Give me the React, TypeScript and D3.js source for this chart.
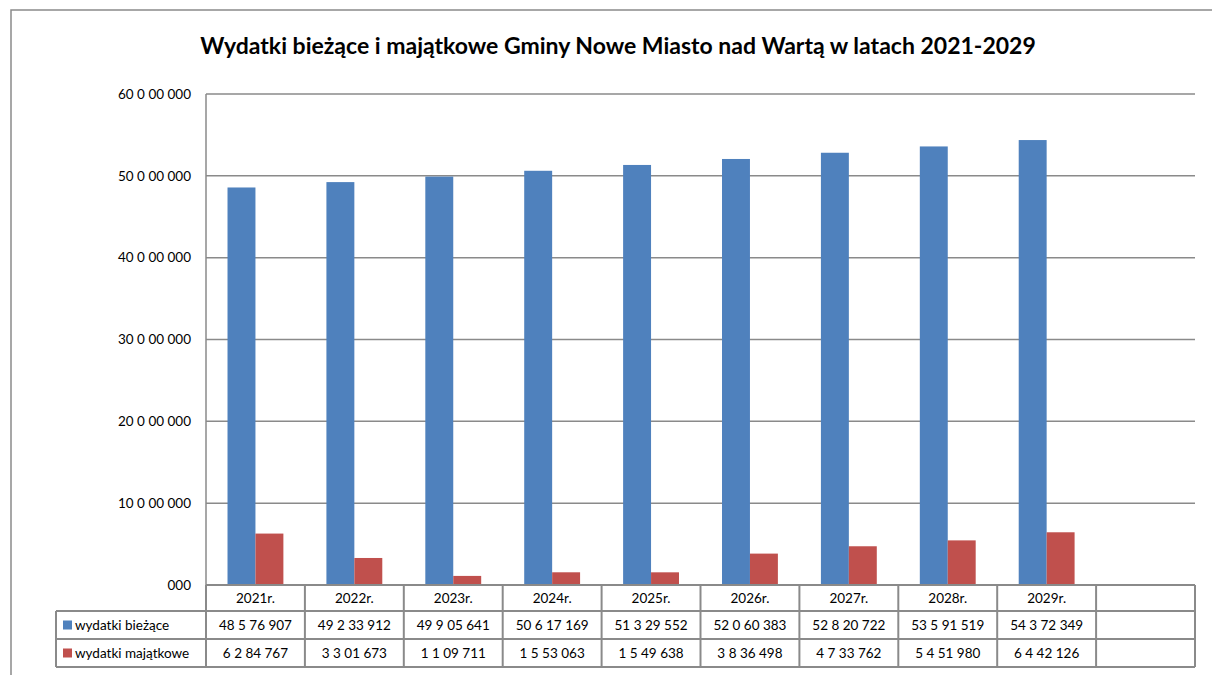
import { scaleBand, scaleLinear } from "d3";

const categories = ["2021r.", "2022r.", "2023r.", "2024r.", "2025r.", "2026r.", "2027r.", "2028r.", "2029r."];
const seriesNames = ["wydatki bieżące", "wydatki majątkowe"];
const seriesColors = ["#4F81BD", "#C0504D"];

const currentValues = [48576907, 49233912, 49905641, 50617169, 51329552, 52060383, 52820722, 53591519, 54372349];
const capitalValues = [6284767, 3301673, 1109711, 1553063, 1549638, 3836498, 4733762, 5451980, 6442126];

// labels as printed in the table
const currentLabels = ["48 5 76 907", "49 2 33 912", "49 9 05 641", "50 6 17 169", "51 3 29 552", "52 0 60 383", "52 8 20 722", "53 5 91 519", "54 3 72 349"];
const capitalLabels = ["6 2 84 767", "3 3 01 673", "1 1 09 711", "1 5 53 063", "1 5 49 638", "3 8 36 498", "4 7 33 762", "5 4 51 980", "6 4 42 126"];

const yTicks = [0, 10000000, 20000000, 30000000, 40000000, 50000000, 60000000];
const yTickLabels = ["000", "10 0 00 000", "20 0 00 000", "30 0 00 000", "40 0 00 000", "50 0 00 000", "60 0 00 000"];

const title = "Wydatki bieżące i majątkowe Gminy Nowe Miasto nad Wartą w latach 2021-2029";

const width = 1212;
const height = 675;
const plot = { left: 206, right: 1195, top: 94, bottom: 585 };
const rowH = [26, 28, 28];
const legendLeft = 56;
const font = "Lato, 'Open Sans', sans-serif";
const grid = "#8a8a8a";
const fs = 13.5;

const App = () => {
  const series = [currentValues, capitalValues];
  const labels = [currentLabels, capitalLabels];

  // one extra empty slot at the end, as in the original
  const slots = [...categories, ""];
  const xScale = scaleBand().domain(slots).range([plot.left, plot.right]);
  const inner = scaleBand<number>()
    .domain([0, 1])
    .range([0, xScale.bandwidth()])
    .paddingInner(0)
    .paddingOuter(0.77);
  const yScale = scaleLinear().domain([0, 60000000]).range([plot.bottom, plot.top]);

  const row1 = plot.bottom;
  const row2 = row1 + rowH[0];
  const row3 = row2 + rowH[1];
  const row4 = row3 + rowH[2];

  return (
    <svg
      width={width}
      height={height}
      style={{ position: "absolute", left: 0, top: 0, background: "#fff" }}
      fontFamily={font}
    >
      {/* chart frame */}
      <rect x={11} y={10} width={1240} height={700} fill="none" stroke={grid} strokeWidth={1.5} />

      <text x={618} y={54} textAnchor="middle" fontSize={23} fontWeight="bold" fill="#000">
        {title}
      </text>

      {/* gridlines + y labels */}
      {yTicks.map((t, i) => (
        <g key={t}>
          <line x1={plot.left} x2={plot.right} y1={yScale(t)} y2={yScale(t)} stroke={grid} strokeWidth={1.5} />
          <text x={191} y={yScale(t)} dy="0.35em" textAnchor="end" fontSize={fs} fill="#000">
            {yTickLabels[i]}
          </text>
        </g>
      ))}
      <line x1={plot.left} x2={plot.left} y1={plot.top} y2={plot.bottom} stroke={grid} strokeWidth={1.5} />

      {/* bars */}
      {categories.map((c, i) => (
        <g key={c}>
          {series.map((s, j) => (
            <rect
              key={j}
              x={(xScale(c) ?? 0) + (inner(j) ?? 0)}
              y={yScale(s[i])}
              width={inner.bandwidth()}
              height={plot.bottom - yScale(s[i])}
              fill={seriesColors[j]}
            />
          ))}
        </g>
      ))}

      {/* data table */}
      <g stroke={grid} strokeWidth={2} fill="none">
        <line x1={plot.left} x2={plot.right} y1={row1} y2={row1} />
        <line x1={legendLeft} x2={plot.right} y1={row2} y2={row2} />
        <line x1={legendLeft} x2={plot.right} y1={row3} y2={row3} />
        <line x1={legendLeft} x2={plot.right} y1={row4} y2={row4} />
        <line x1={legendLeft} x2={legendLeft} y1={row2} y2={row4} />
        {slots.map((s) => (
          <line key={"v" + s} x1={xScale(s)} x2={xScale(s)} y1={row1} y2={row4} />
        ))}
        <line x1={plot.right} x2={plot.right} y1={row1} y2={row4} />
      </g>

      {categories.map((c) => (
        <text
          key={"c" + c}
          x={(xScale(c) ?? 0) + xScale.bandwidth() / 2}
          y={(row1 + row2) / 2}
          dy="0.35em"
          textAnchor="middle"
          fontSize={fs}
        >
          {c}
        </text>
      ))}

      {seriesNames.map((name, j) => {
        const top = j === 0 ? row2 : row3;
        const bottom = j === 0 ? row3 : row4;
        const cy = (top + bottom) / 2;
        return (
          <g key={name}>
            <rect x={63} y={cy - 4.5} width={9} height={9} fill={seriesColors[j]} />
            <text x={75} y={cy} dy="0.35em" fontSize={fs}>
              {name}
            </text>
            {labels[j].map((l, i) => (
              <text
                key={i}
                x={(xScale(categories[i]) ?? 0) + xScale.bandwidth() / 2}
                y={cy}
                dy="0.35em"
                textAnchor="middle"
                fontSize={fs}
              >
                {l}
              </text>
            ))}
          </g>
        );
      })}
    </svg>
  );
};

export default App;
